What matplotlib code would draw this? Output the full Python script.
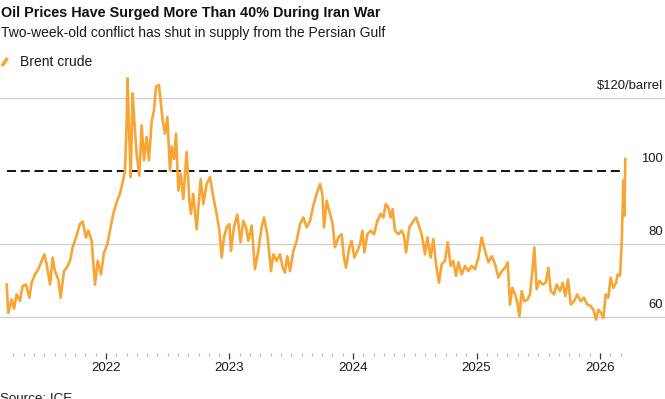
import matplotlib
matplotlib.use("Agg")
import matplotlib.pyplot as plt
from matplotlib.lines import Line2D
from matplotlib.ticker import FixedLocator, NullFormatter

plt.rcParams['font.family'] = ['Liberation Sans', 'DejaVu Sans']

# Brent crude, decimal years
years = [
    2021.196, 2021.209, 2021.236, 2021.255, 2021.277, 2021.304, 2021.325, 2021.352,
    2021.379, 2021.398, 2021.425, 2021.452, 2021.479, 2021.501, 2021.520, 2021.547,
    2021.568, 2021.587, 2021.614, 2021.633, 2021.660, 2021.682, 2021.709, 2021.730,
    2021.757, 2021.789, 2021.811, 2021.838, 2021.857, 2021.884, 2021.911, 2021.933,
    2021.960, 2021.984, 2022.011, 2022.038, 2022.059, 2022.086, 2022.113, 2022.135,
    2022.154, 2022.167, 2022.175, 2022.189, 2022.200, 2022.216, 2022.229, 2022.248,
    2022.270, 2022.289, 2022.308, 2022.329, 2022.348, 2022.370, 2022.389, 2022.405,
    2022.429, 2022.459, 2022.478, 2022.497, 2022.518, 2022.532, 2022.551, 2022.567,
    2022.586, 2022.605, 2022.626, 2022.653, 2022.675, 2022.688, 2022.707, 2022.734,
    2022.767, 2022.788, 2022.815, 2022.842, 2022.869, 2022.896, 2022.918, 2022.937,
    2022.955, 2022.977, 2022.999, 2023.012, 2023.036, 2023.063, 2023.090, 2023.112,
    2023.134, 2023.152, 2023.180, 2023.206, 2023.233, 2023.260, 2023.279, 2023.306,
    2023.336, 2023.355, 2023.382, 2023.409, 2023.431, 2023.449, 2023.468, 2023.490,
    2023.517, 2023.544, 2023.571, 2023.598, 2023.625, 2023.652, 2023.679, 2023.706,
    2023.733, 2023.752, 2023.765, 2023.787, 2023.808, 2023.835, 2023.854, 2023.881,
    2023.908, 2023.927, 2023.943, 2023.970, 2023.989, 2024.011, 2024.035, 2024.057,
    2024.076, 2024.092, 2024.116, 2024.143, 2024.170, 2024.197, 2024.224, 2024.246,
    2024.265, 2024.286, 2024.305, 2024.321, 2024.340, 2024.367, 2024.394, 2024.413,
    2024.429, 2024.456, 2024.483, 2024.510, 2024.529, 2024.556, 2024.583, 2024.602,
    2024.629, 2024.650, 2024.672, 2024.696, 2024.718, 2024.745, 2024.767, 2024.791,
    2024.812, 2024.834, 2024.853, 2024.880, 2024.907, 2024.934, 2024.961, 2024.988,
    2025.015, 2025.042, 2025.069, 2025.096, 2025.123, 2025.150, 2025.177, 2025.204,
    2025.231, 2025.252, 2025.271, 2025.290, 2025.312, 2025.331, 2025.347, 2025.366,
    2025.387, 2025.414, 2025.433, 2025.452, 2025.468, 2025.487, 2025.509, 2025.536,
    2025.560, 2025.582, 2025.601, 2025.628, 2025.649, 2025.676, 2025.698, 2025.719,
    2025.741, 2025.763, 2025.789, 2025.816, 2025.844, 2025.870, 2025.897, 2025.924,
    2025.946, 2025.968, 2025.987, 2026.008, 2026.027, 2026.046, 2026.067, 2026.086,
    2026.108, 2026.130, 2026.143, 2026.162, 2026.175, 2026.189, 2026.197, 2026.205,
]
brent = [
    68.8, 61.0, 64.7, 62.2, 66.1, 64.3, 68.4, 68.8,
    65.2, 69.3, 71.6, 73.0, 75.3, 77.1, 74.4, 68.8,
    76.2, 72.5, 70.2, 65.2, 72.5, 73.4, 75.3, 79.0,
    81.7, 85.4, 86.1, 81.7, 83.6, 80.8, 68.8, 75.3,
    71.6, 77.6, 79.9, 84.5, 88.2, 91.4, 93.7, 96.9,
    100.1, 113.0, 125.4, 109.3, 98.3, 121.3, 113.9, 104.7,
    98.7, 112.5, 102.9, 109.3, 102.9, 113.5, 116.7, 123.1,
    123.6, 113.9, 110.2, 114.8, 100.1, 106.6, 103.3, 110.2,
    94.6, 99.2, 92.3, 105.2, 91.8, 88.2, 93.7, 84.0,
    97.8, 90.9, 96.4, 98.3, 92.8, 88.2, 83.6, 76.2,
    81.7, 84.5, 85.4, 78.0, 84.5, 88.0, 80.4, 86.3,
    84.5, 80.8, 85.0, 73.0, 78.0, 84.5, 87.2, 82.6,
    72.5, 77.1, 75.3, 77.1, 73.4, 72.1, 76.6, 72.5,
    78.0, 80.8, 85.4, 87.2, 84.5, 86.3, 90.5, 93.7,
    96.4, 93.7, 84.5, 91.8, 89.0, 85.4, 79.0, 81.7,
    82.6, 76.2, 73.4, 79.0, 80.8, 76.2, 78.0, 79.9,
    83.6, 77.6, 82.6, 83.6, 82.6, 86.3, 88.2, 87.2,
    90.9, 90.0, 87.2, 89.5, 83.6, 82.6, 83.6, 82.2,
    77.6, 84.5, 85.9, 87.2, 85.4, 82.6, 77.1, 81.7,
    76.2, 81.3, 74.4, 69.3, 74.4, 75.3, 80.4, 73.9,
    75.3, 71.2, 74.9, 71.6, 73.9, 72.5, 73.9, 73.0,
    76.2, 81.7, 78.0, 74.9, 76.6, 74.4, 70.7, 72.5,
    73.4, 74.9, 63.3, 67.9, 66.1, 63.8, 60.1, 67.0,
    64.2, 64.7, 66.1, 72.5, 79.0, 67.5, 69.8, 68.8,
    69.3, 73.4, 67.0, 66.1, 68.8, 67.0, 69.3, 65.6,
    70.2, 63.3, 64.2, 66.1, 64.2, 65.2, 63.3, 62.9,
    61.9, 59.2, 61.9, 61.0, 59.6, 66.1, 65.2, 70.7,
    67.9, 69.3, 71.6, 71.2, 79.9, 97.4, 87.7, 103.3,
]

grid_levels = [60, 80, 120]
label_levels = [120, 100, 80, 60]
label_texts = ['$120/barrel', '100', '80', '60']
ref_level = 100
year_ticks = [2022, 2023, 2024, 2025, 2026]
month_ticks = [y + m / 12 for y in range(2021, 2027) for m in range(1, 12)
               if 2021.2 < y + m / 12 < 2026.2]

orange = '#F7A535'
W, H = 665, 399

fig = plt.figure(figsize=(W / 100, H / 100), dpi=100)
ax = fig.add_axes([0, 1 - 353 / H, 1, (353 - 61.65) / H])
ax.set_xlim(2021.142, 2026.526)
ax.set_ylim(50, 130)

for lv in grid_levels:
    ax.axhline(lv, color='#cfcfcf', lw=0.9, zorder=1)
ax.hlines(ref_level, years[0], years[-1], colors='black', lw=1.3,
          linestyles=(0, (5, 2.6)), zorder=2)
ax.plot(years, brent, color=orange, lw=1.9, zorder=3, solid_joinstyle='round')

for lv, txt in zip(label_levels, label_texts):
    ax.annotate(txt, xy=(1, lv), xycoords=('axes fraction', 'data'),
                xytext=(-1.5, 8.5), textcoords='offset points',
                ha='right', va='center', fontsize=9.4, color='#1a1a1a')

for s in ax.spines.values():
    s.set_visible(False)
ax.set_yticks([])
ax.set_xticks(year_ticks)
ax.set_xticklabels([str(y) for y in year_ticks])
ax.xaxis.set_minor_locator(FixedLocator(month_ticks))
ax.xaxis.set_minor_formatter(NullFormatter())
ax.tick_params(axis='x', which='major', length=4.5, width=0.9, color='#333333',
               labelsize=9.6, labelcolor='#1a1a1a', pad=2)
ax.tick_params(axis='x', which='minor', length=2.4, width=0.8, color='#b5b5b5')

fig.text(1 / W, 1 - 17.3 / H, 'Oil Prices Have Surged More Than 40% During Iran War',
         fontsize=10.4, fontweight='bold', va='baseline', color='#111111')
fig.text(1 / W, 1 - 37.3 / H, 'Two-week-old conflict has shut in supply from the Persian Gulf',
         fontsize=10.0, va='baseline', color='#1a1a1a')
fig.add_artist(Line2D([2 / W, 7.5 / W], [1 - 66 / H, 1 - 58 / H],
                      color=orange, lw=2.5, solid_capstyle='butt'))
fig.text(20 / W, 1 - 66 / H, 'Brent crude', fontsize=10.0, va='baseline', color='#1a1a1a')
fig.text(0, 1 - 402 / H, 'Source: ICE', fontsize=9.6, va='baseline', color='#1a1a1a')

fig.savefig('out.png', dpi=100)
